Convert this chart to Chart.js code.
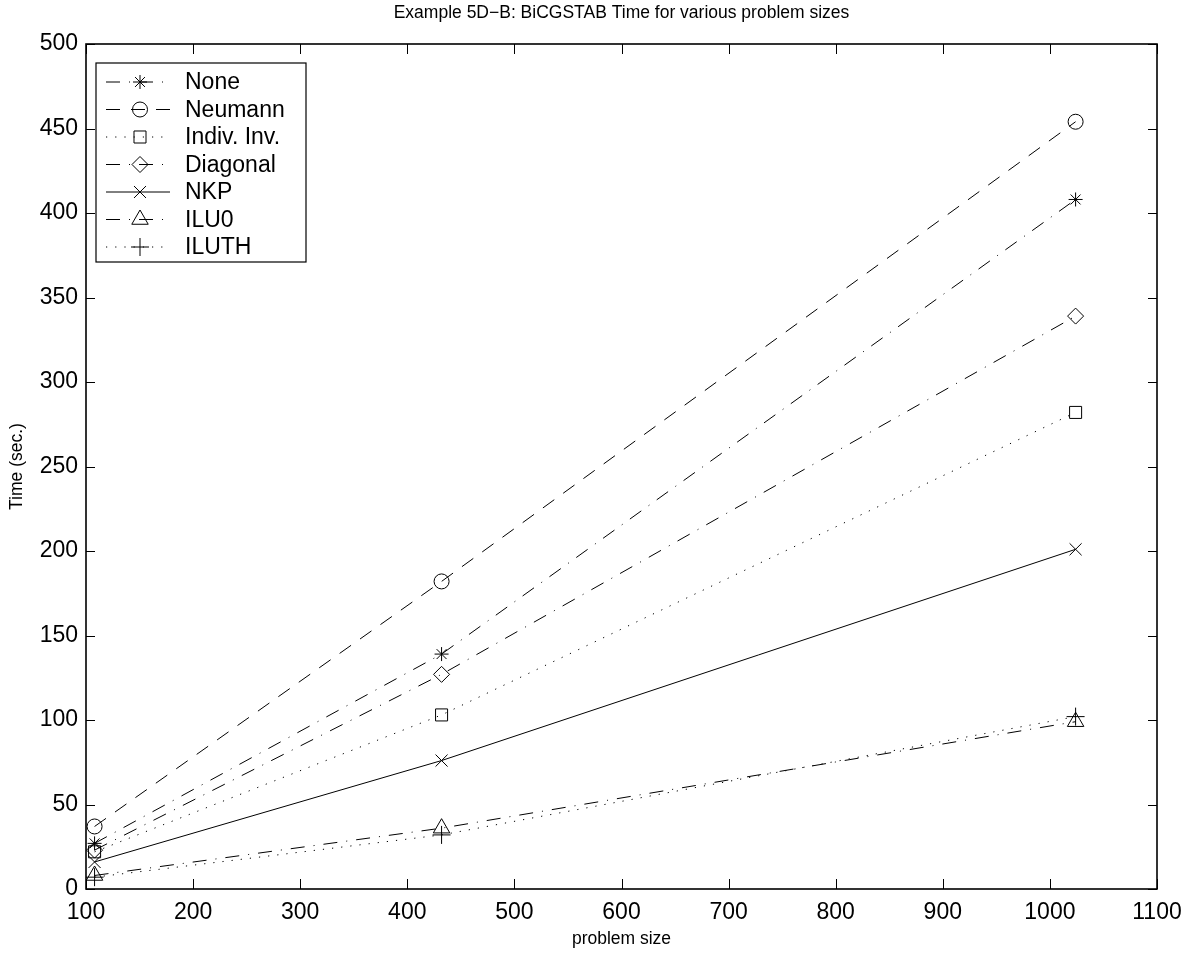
<!DOCTYPE html>
<html>
<head>
<meta charset="utf-8">
<script src="https://cdn.jsdelivr.net/npm/chart.js@4"></script>
<style>
  body { margin: 0; background: #fff; }
  canvas { display: block; }
</style>
</head>
<body>
<canvas id="bicgstabChart" width="1194" height="957"></canvas>
<script>
// problem sizes on the x axis
const problemSize = [108, 432, 1024];

// time (sec.) per preconditioner
const timeNone = [27, 139, 408];
const timeNeumann = [37, 182, 454];
const timeIndivInv = [22, 103, 282];
const timeDiagonal = [23, 127, 339];
const timeNKP = [16, 76, 201];
const timeILU0 = [8, 36, 99];
const timeILUTH = [7, 32, 102];

const seriesLabels = ['None', 'Neumann', 'Indiv. Inv.', 'Diagonal', 'NKP', 'ILU0', 'ILUTH'];
const seriesValues = [timeNone, timeNeumann, timeIndivInv, timeDiagonal, timeNKP, timeILU0, timeILUTH];

const xTicks = [100, 200, 300, 400, 500, 600, 700, 800, 900, 1000, 1100];
const yTicks = [0, 50, 100, 150, 200, 250, 300, 350, 400, 450, 500];

const chartTitle = 'Example 5D\u2212B: BiCGSTAB Time for various problem sizes';

// line / marker styles (MATLAB look)
const DASHED = [14, 11];
const DASHDOT = [14, 9, 1, 9];
const DOTTED = [1.2, 8];
const styles = [
    { dash: DASHDOT, marker: 'star', r: 7 },
    { dash: DASHED, marker: 'circle', r: 7.5 },
    { dash: DOTTED, marker: 'rect', r: 8.5 },
    { dash: DASHDOT, marker: 'rectRot', r: 8 },
    { dash: [], marker: 'crossRot', r: 8.5 },
    { dash: DASHDOT, marker: 'triangle', r: 9.5 },
    { dash: DOTTED, marker: 'cross', r: 9 }
];

const FONT = "'Liberation Sans', Arial, Helvetica, sans-serif";

const datasets = seriesLabels.map(function (label, i) {
    return {
        label: label,
        data: problemSize.map(function (x, j) { return { x: x, y: seriesValues[i][j] }; }),
        borderColor: '#000',
        borderWidth: 1,
        borderDash: styles[i].dash,
        pointStyle: styles[i].marker,
        pointRadius: styles[i].r,
        pointBorderColor: '#000',
        pointBackgroundColor: 'rgba(0,0,0,0)',
        pointBorderWidth: 1,
        tension: 0,
        fill: false
    };
});

// inward ticks + box frame + title centred over the axes
const framePlugin = {
    id: 'frame',
    afterDraw(chart) {
        const ctx = chart.ctx;
        const a = chart.chartArea;
        const xs = chart.scales.x, ys = chart.scales.y;
        ctx.save();
        ctx.strokeStyle = '#000';
        ctx.lineWidth = 1;
        ctx.setLineDash([]);
        ctx.beginPath();
        xTicks.forEach(function (v) {
            const px = Math.round(xs.getPixelForValue(v)) + 0.5;
            ctx.moveTo(px, a.bottom); ctx.lineTo(px, a.bottom - 10);
            ctx.moveTo(px, a.top); ctx.lineTo(px, a.top + 10);
        });
        yTicks.forEach(function (v) {
            const py = Math.round(ys.getPixelForValue(v)) + 0.5;
            ctx.moveTo(a.left, py); ctx.lineTo(a.left + 9, py);
            ctx.moveTo(a.right, py); ctx.lineTo(a.right - 9, py);
        });
        ctx.stroke();
        ctx.lineWidth = 1.6;
        ctx.strokeRect(a.left, a.top, a.right - a.left, a.bottom - a.top);

        ctx.fillStyle = '#000';
        ctx.font = '17.5px ' + FONT;
        ctx.textAlign = 'center';
        ctx.textBaseline = 'middle';
        ctx.fillText(chartTitle, (a.left + a.right) / 2, 13);
        ctx.restore();
    }
};

// MATLAB style legend box in the upper left corner
const boxLegendPlugin = {
    id: 'boxLegend',
    afterDraw(chart) {
        const ctx = chart.ctx;
        const bx = 96, by = 63, bw = 210, bh = 199;
        ctx.save();
        ctx.fillStyle = '#fff';
        ctx.fillRect(bx, by, bw, bh);
        ctx.strokeStyle = '#000';
        ctx.lineWidth = 1.2;
        ctx.setLineDash([]);
        ctx.strokeRect(bx, by, bw, bh);
        chart.data.datasets.forEach(function (ds, i) {
            const y = 82 + i * 27.5;
            ctx.lineWidth = 1;
            ctx.setLineDash(ds.borderDash);
            ctx.beginPath();
            ctx.moveTo(106, y);
            ctx.lineTo(170, y);
            ctx.stroke();
            ctx.setLineDash([]);
            ctx.fillStyle = 'rgba(0,0,0,0)';
            Chart.helpers.drawPoint(ctx, {
                pointStyle: ds.pointStyle,
                radius: ds.pointRadius,
                rotation: 0,
                borderWidth: 1
            }, 140, y);
            ctx.fillStyle = '#000';
            ctx.font = '23px ' + FONT;
            ctx.textBaseline = 'middle';
            ctx.textAlign = 'left';
            ctx.fillText(ds.label, 185, y + 1);
        });
        ctx.restore();
    }
};

const ctx = document.getElementById('bicgstabChart').getContext('2d');
window.bicgstabChart = new Chart(ctx, {
    type: 'line',
    data: { datasets: datasets },
    options: {
        responsive: false,
        animation: false,
        layout: { padding: { top: 44, right: 37, left: 0, bottom: 0 } },
        plugins: {
            legend: { display: false },
            tooltip: { enabled: false },
            title: { display: false }
        },
        scales: {
            x: {
                type: 'linear',
                min: 100,
                max: 1100,
                grid: { display: false, drawTicks: false },
                border: { display: false },
                afterFit: function (scale) { scale.height = 68; },
                afterBuildTicks: function (scale) {
                    scale.ticks = xTicks.map(function (v) { return { value: v }; });
                },
                ticks: {
                    color: '#000',
                    padding: 10,
                    maxRotation: 0,
                    autoSkip: false,
                    font: { family: FONT, size: 23 },
                    callback: function (v) { return String(v); }
                },
                title: {
                    display: true,
                    text: 'problem size',
                    color: '#000',
                    font: { family: FONT, size: 17.5 },
                    padding: { top: 7, bottom: 7 }
                }
            },
            y: {
                min: 0,
                max: 500,
                grid: { display: false, drawTicks: false },
                border: { display: false },
                afterFit: function (scale) { scale.width = 86; },
                afterBuildTicks: function (scale) {
                    scale.ticks = yTicks.map(function (v) { return { value: v }; });
                },
                ticks: {
                    color: '#000',
                    padding: 8,
                    autoSkip: false,
                    font: { family: FONT, size: 23 },
                    callback: function (v) { return String(v); }
                },
                title: {
                    display: true,
                    text: 'Time (sec.)',
                    color: '#000',
                    font: { family: FONT, size: 17.5 },
                    padding: { top: 7, bottom: 7 }
                }
            }
        }
    },
    plugins: [framePlugin, boxLegendPlugin]
});
</script>
</body>
</html>
